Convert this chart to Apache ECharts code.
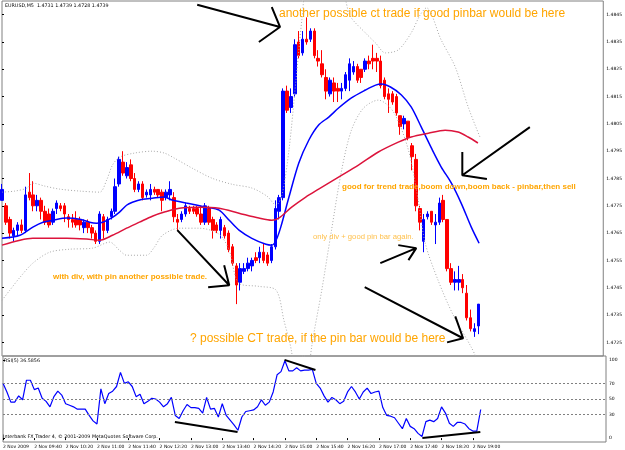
<!DOCTYPE html>
<html>
<head>
<meta charset="utf-8">
<script src="https://cdn.jsdelivr.net/npm/echarts@6/dist/echarts.min.js"></script>
<style>
html, body { margin: 0; padding: 0; background: #fff; }
#chart { width: 625px; height: 450px; }
</style>
</head>
<body>
<div id="chart"></div>
<script>
// EURUSD M5, 2 Nov 2009, 09:00 .. 19:10
const timeLabels = ['2 Nov 2009', '2 Nov 09:40', '2 Nov 10:20', '2 Nov 11:00', '2 Nov 11:40', '2 Nov 12:20',
  '2 Nov 13:00', '2 Nov 13:40', '2 Nov 14:20', '2 Nov 15:00', '2 Nov 15:40', '2 Nov 16:20',
  '2 Nov 17:00', '2 Nov 17:40', '2 Nov 18:20', '2 Nov 19:00']
const labelStep = 8
const slotCount = 155

const open = [
  1.4777, 1.4775, 1.4770, 1.4764, 1.4766, 1.4768, 1.4766, 1.4780, 1.4779, 1.4775,
  1.4777, 1.4773, 1.4772, 1.4769, 1.4774, 1.4775, 1.4775, 1.4771, 1.4770, 1.4770,
  1.4770, 1.4767, 1.4769, 1.4767, 1.4765, 1.4762, 1.4771, 1.4766, 1.4771, 1.4773,
  1.4783, 1.4791, 1.4786, 1.4790, 1.4785, 1.4781, 1.4783, 1.4779, 1.4779, 1.4781,
  1.4781, 1.4780, 1.4778, 1.4779, 1.4778, 1.4770, 1.4770, 1.4772, 1.4774, 1.4774,
  1.4774, 1.4772, 1.4769, 1.4774, 1.4770, 1.4768, 1.4766, 1.4767, 1.4765, 1.4760,
  1.4753, 1.4747, 1.4751, 1.4752, 1.4753, 1.4756, 1.4756, 1.4758, 1.4757, 1.4755,
  1.4760, 1.4773, 1.4778, 1.4817, 1.4811, 1.4816, 1.4835, 1.4831, 1.4836, 1.4836,
  1.4839, 1.4829, 1.4827, 1.4822, 1.4816, 1.4820, 1.4818, 1.4817, 1.4818, 1.4821,
  1.4824, 1.4826, 1.4825, 1.4825, 1.4828, 1.4829, 1.4829, 1.4828, 1.4821, 1.4816,
  1.4816, 1.4815, 1.4808, 1.4805, 1.4806, 1.4797, 1.4792, 1.4774, 1.4762, 1.4771,
  1.4773, 1.4768, 1.4769, 1.4777, 1.4770, 1.4752, 1.4747, 1.4747, 1.4748, 1.4743,
  1.4734, 1.4729, 1.4731
]
const close = [
  1.4781, 1.4769, 1.4765, 1.4766, 1.4768, 1.4766, 1.4779, 1.4778, 1.4775, 1.4777,
  1.4773, 1.4769, 1.4768, 1.4773, 1.4776, 1.4774, 1.4772, 1.4770, 1.4769, 1.4768,
  1.4768, 1.4769, 1.4767, 1.4765, 1.4762, 1.4772, 1.4766, 1.4770, 1.4773, 1.4782,
  1.4792, 1.4787, 1.4789, 1.4785, 1.4781, 1.4783, 1.4778, 1.4780, 1.4781, 1.4780,
  1.4779, 1.4777, 1.4780, 1.4781, 1.4771, 1.4769, 1.4772, 1.4775, 1.4773, 1.4773,
  1.4772, 1.4769, 1.4775, 1.4769, 1.4766, 1.4766, 1.4770, 1.4764, 1.4759, 1.4754,
  1.4746, 1.4752, 1.4752, 1.4754, 1.4755, 1.4755, 1.4758, 1.4755, 1.4754, 1.4760,
  1.4774, 1.4778, 1.4817, 1.4810, 1.4815, 1.4834, 1.4830, 1.4836, 1.4835, 1.4839,
  1.4830, 1.4828, 1.4823, 1.4817, 1.4821, 1.4817, 1.4817, 1.4818, 1.4823, 1.4827,
  1.4826, 1.4821, 1.4822, 1.4828, 1.4827, 1.4828, 1.4828, 1.4819, 1.4815, 1.4814,
  1.4813, 1.4809, 1.4804, 1.4807, 1.4800, 1.4793, 1.4775, 1.4769, 1.4770, 1.4772,
  1.4769, 1.4769, 1.4776, 1.4770, 1.4752, 1.4747, 1.4748, 1.4748, 1.4745, 1.4734,
  1.4730, 1.4730, 1.4739
]
const low = [
  1.4777, 1.4768, 1.4763, 1.4762, 1.4764, 1.4765, 1.4765, 1.4777, 1.4773, 1.4773,
  1.4770, 1.4768, 1.4767, 1.4768, 1.4772, 1.4773, 1.4769, 1.4767, 1.4767, 1.4767,
  1.4766, 1.4765, 1.4765, 1.4763, 1.4761, 1.4761, 1.4763, 1.4765, 1.4770, 1.4772,
  1.4782, 1.4786, 1.4785, 1.4784, 1.4780, 1.4780, 1.4777, 1.4778, 1.4777, 1.4779,
  1.4778, 1.4773, 1.4777, 1.4777, 1.4769, 1.4766, 1.4769, 1.4771, 1.4772, 1.4772,
  1.4771, 1.4768, 1.4768, 1.4768, 1.4763, 1.4765, 1.4763, 1.4763, 1.4758, 1.4753,
  1.4739, 1.4744, 1.4750, 1.4751, 1.4751, 1.4754, 1.4754, 1.4754, 1.4753, 1.4754,
  1.4759, 1.4770, 1.4777, 1.4809, 1.4809, 1.4815, 1.4829, 1.4830, 1.4834, 1.4835,
  1.4829, 1.4826, 1.4822, 1.4814, 1.4815, 1.4813, 1.4813, 1.4814, 1.4817, 1.4817,
  1.4823, 1.4820, 1.4820, 1.4824, 1.4825, 1.4825, 1.4824, 1.4818, 1.4814, 1.4809,
  1.4812, 1.4808, 1.4801, 1.4803, 1.4799, 1.4788, 1.4773, 1.4766, 1.4758, 1.4770,
  1.4768, 1.4761, 1.4768, 1.4769, 1.4751, 1.4746, 1.4744, 1.4744, 1.4743, 1.4733,
  1.4729, 1.4727, 1.4728
]
const high = [
  1.4783, 1.4776, 1.4771, 1.4767, 1.4769, 1.4770, 1.4782, 1.4787, 1.4784, 1.4779,
  1.4778, 1.4775, 1.4774, 1.4774, 1.4777, 1.4776, 1.4776, 1.4772, 1.4772, 1.4773,
  1.4771, 1.4770, 1.4770, 1.4768, 1.4766, 1.4773, 1.4772, 1.4771, 1.4774, 1.4785,
  1.4793, 1.4795, 1.4791, 1.4792, 1.4787, 1.4784, 1.4784, 1.4781, 1.4783, 1.4782,
  1.4781, 1.4781, 1.4781, 1.4784, 1.4780, 1.4772, 1.4773, 1.4776, 1.4775, 1.4775,
  1.4775, 1.4775, 1.4776, 1.4775, 1.4771, 1.4769, 1.4771, 1.4768, 1.4766, 1.4761,
  1.4754, 1.4754, 1.4754, 1.4756, 1.4756, 1.4758, 1.4760, 1.4761, 1.4758, 1.4761,
  1.4777, 1.4779, 1.4818, 1.4819, 1.4818, 1.4836, 1.4839, 1.4839, 1.4844, 1.4840,
  1.4840, 1.4832, 1.4832, 1.4825, 1.4822, 1.4822, 1.4820, 1.4820, 1.4824, 1.4829,
  1.4828, 1.4827, 1.4825, 1.4829, 1.4830, 1.4834, 1.4831, 1.4830, 1.4822, 1.4818,
  1.4817, 1.4816, 1.4808, 1.4808, 1.4806, 1.4798, 1.4794, 1.4775, 1.4772, 1.4773,
  1.4773, 1.4772, 1.4778, 1.4779, 1.4770, 1.4754, 1.4751, 1.4753, 1.4750, 1.4746,
  1.4737, 1.4732, 1.4739
]

const rsi = [
  70, 59, 46, 46, 54, 49, 74, 74, 62, 64,
  51, 47, 40, 53, 60, 55, 44, 42, 40, 37,
  37, 37, 29, 22, 18, 63, 44, 57, 60, 66,
  84, 70, 72, 66, 53, 56, 44, 47, 51, 50,
  46, 40, 44, 52, 29, 25, 35, 43, 39, 39,
  38, 32, 52, 37, 38, 27, 44, 29, 23, 17,
  10, 27, 34, 35, 36, 40, 49, 42, 46, 59,
  81, 85, 99, 86, 86, 90, 86, 87, 87, 88,
  70, 64, 54, 46, 52, 49, 44, 47, 59, 66,
  59, 50, 59, 64, 57, 59, 60, 39, 29, 28,
  26, 19, 12, 25, 15, 12, 6, 2, 21, 23,
  21, 25, 40, 32, 19, 15, 20, 20, 18, 12,
  9, 9, 36.5856
]

// moving averages and bands as [bar, price]
const fastMa = [
  [0, 1.47631], [4.6, 1.47642], [7.9, 1.47672], [10.5, 1.4769], [13, 1.47697], [16.6, 1.47705],
  [19.9, 1.47701], [22.4, 1.4769], [24.2, 1.47686], [25.8, 1.4769], [28.3, 1.47708], [30.1, 1.47727],
  [31.9, 1.47752], [33.4, 1.47763], [36, 1.47774], [38.5, 1.47778], [41.6, 1.47782], [43.6, 1.47771],
  [47.2, 1.4776], [52.3, 1.47745], [55.6, 1.47734], [58.2, 1.47697], [60.7, 1.47661], [64, 1.47631],
  [67.6, 1.47609], [69.1, 1.47606], [70.2, 1.47624], [71.4, 1.47672], [73.5, 1.47782], [76, 1.47906],
  [78.6, 1.47991], [81.1, 1.48046], [83.7, 1.48075], [86.2, 1.48108], [89.5, 1.48145], [93.1, 1.48174],
  [95.7, 1.48192], [97.2, 1.48196], [99.5, 1.48185], [102.3, 1.48156], [104.8, 1.48112], [107.4, 1.48038],
  [110, 1.47961], [112.5, 1.47892], [115.1, 1.47833], [117.6, 1.4776], [120.2, 1.47672], [122.2, 1.47613]
]
const slowMa = [
  [0, 1.47606], [4.6, 1.47624], [7.9, 1.47631], [16.6, 1.47631], [21.7, 1.47628], [25, 1.47624],
  [28.3, 1.47642], [31.9, 1.47668], [35.2, 1.4769], [38.5, 1.47712], [41.6, 1.47727], [45.4, 1.47741],
  [50.5, 1.47745], [55.6, 1.47741], [60.7, 1.47723], [65.8, 1.47705], [69.1, 1.47697], [70.9, 1.47705],
  [74.2, 1.47745], [77.8, 1.47782], [81.1, 1.47811], [86.2, 1.47855], [91.3, 1.47899], [96.4, 1.47947],
  [101.5, 1.47983], [104.8, 1.48002], [109.2, 1.48016], [113.5, 1.48027], [116.8, 1.4802], [119.4, 1.48002],
  [121.9, 1.4798]
]
const upperBand = [
  [0, 1.478], [3.3, 1.47804], [6.4, 1.47815], [7.9, 1.47833], [11, 1.47822], [14.8, 1.47811],
  [19.9, 1.47804], [25, 1.478], [26.8, 1.47844], [28.3, 1.47899], [30.1, 1.47928], [33.9, 1.47943],
  [38.5, 1.4795], [41.6, 1.47943], [44.1, 1.47925], [48.7, 1.47888], [53.8, 1.47851], [58.9, 1.47829],
  [64, 1.47815], [67.9, 1.47785], [70.2, 1.47752], [71.7, 1.47789], [73.5, 1.47954], [75.3, 1.48211],
  [76.8, 1.48431], [78.6, 1.48651], [82.4, 1.48761], [86.2, 1.48614], [88, 1.48504], [89.3, 1.48442],
  [93.1, 1.48383], [95.7, 1.48346], [98.2, 1.4831], [101.5, 1.48321], [104.8, 1.48383], [107.1, 1.48449],
  [108.7, 1.48475], [112.5, 1.48357], [116.1, 1.48258], [119.4, 1.48112], [122.4, 1.48002]
]
const lowerBand = [
  [0, 1.47404], [2, 1.47441], [4.6, 1.47488], [7.9, 1.4754], [12.2, 1.4758], [17.3, 1.47591],
  [23.2, 1.47595], [27.6, 1.47617], [30.1, 1.47587], [31.9, 1.47569], [37, 1.47569], [39, 1.47598],
  [41.1, 1.47642], [45.4, 1.47668], [50.5, 1.47668], [55.6, 1.47646], [58.2, 1.47587], [60.7, 1.47466],
  [65.8, 1.47455], [70.2, 1.47441], [72.2, 1.47331], [74.2, 1.47213], [76, 1.46964], [77.8, 1.47037],
  [79.3, 1.47232], [81.9, 1.47441], [84.4, 1.47661], [87, 1.47881], [89.5, 1.48027], [92.6, 1.48108],
  [96.4, 1.48137], [100.3, 1.48093], [104.1, 1.47954], [106.6, 1.47771], [108.4, 1.47613], [111.7, 1.47477],
  [115.6, 1.47349], [120.2, 1.47232], [122.4, 1.47166]
]

const priceTicks = [1.4725, 1.4735, 1.4745, 1.4755, 1.4765, 1.4775, 1.4785, 1.4795, 1.4805, 1.4815, 1.4825, 1.4835, 1.4845]
const rsiTicks = [0, 30, 50, 70, 100]
const rsiLevels = [30, 50, 70]

// hand drawn arrows: shaft start, tip, head, tip, head
const arrowTop = [[50, 1.48486], [71.2, 1.48405], [69.1, 1.48478], [71.2, 1.48405], [65.8, 1.4835]]
const arrowDiv = [[44.9, 1.47661], [58.2, 1.47459], [56.9, 1.47532], [58.2, 1.47459], [52.8, 1.47452]]
const arrowPin = [[96.9, 1.4754], [106.1, 1.47595], [101.5, 1.47606], [106.1, 1.47595], [104.1, 1.47551]]
const arrowCt = [[92.9, 1.47452], [118.1, 1.47265], [116.1, 1.47345], [118.1, 1.47265], [114, 1.4725]]
const arrowTrend = [[135.2, 1.48038], [117.9, 1.47862], [117.9, 1.47947], [117.9, 1.47862], [124.2, 1.47848]]
const rsiLineA = [[43.9, 20.5], [59.9, 7.7]]
const rsiLineB = [[71.9, 100], [79.8, 87]]
const rsiLineC = [[107.1, 0], [121.9, 7.7]]

const notes = [
  { text: 'another possible ct trade if good pinbar would be here', x: 279, y: 14, font: '12px "Liberation Sans"', color: '#FFA500' },
  { text: 'good for trend trade,boom down,boom back - pinbar,then sell', x: 342, y: 187, font: 'bold 8px "Liberation Sans"', color: '#FFA500' },
  { text: 'only div + good pin bar again.', x: 313, y: 237, font: '7.7px "Liberation Sans"', color: '#FFC04C' },
  { text: 'with div, with pin another possible trade.', x: 53, y: 277, font: 'bold 8px "Liberation Sans"', color: '#FFA500' },
  { text: '? possible CT trade, if the pin bar would be here', x: 190, y: 339, font: '12px "Liberation Sans"', color: '#FFA500' }
]

const last = open.length - 1
const cats = []
for (let i = 0; i < slotCount; i++) cats.push(String(i))
const candles = open.map((o, i) => [o, close[i], low[i], high[i]])
const showTime = (idx) => idx % labelStep === 0 && idx / labelStep < timeLabels.length

const smallFont = { fontFamily: 'DejaVu Sans', fontSize: 4.5, color: '#000' }

function drawing(data, xi, yi) {
  return {
    type: 'line', xAxisIndex: xi, yAxisIndex: yi, data: data, symbol: 'none', silent: true,
    lineStyle: { color: '#000', width: 2 }, z: 5
  }
}

function band(data) {
  return {
    type: 'line', xAxisIndex: 2, yAxisIndex: 0, data: data, symbol: 'none', smooth: 0.3, silent: true,
    lineStyle: { color: '#A8A8A8', width: 1, type: [1, 2] }
  }
}

const chart = echarts.init(document.getElementById('chart'))
chart.setOption({
  animation: false,
  backgroundColor: '#fff',
  grid: [
    { left: 2, top: 1, width: 604, height: 355, show: true, borderColor: '#808080', borderWidth: 1 },
    { left: 2, top: 356, width: 604, height: 86, show: true, borderColor: '#808080', borderWidth: 1 }
  ],
  xAxis: [
    { type: 'category', gridIndex: 0, data: cats, boundaryGap: false, show: false },
    {
      type: 'category', gridIndex: 1, data: cats, boundaryGap: false,
      axisLine: { show: false },
      axisTick: { show: true, interval: showTime, length: 2, lineStyle: { color: '#000' } },
      axisLabel: {
        interval: showTime, align: 'left', margin: 2, ...smallFont,
        formatter: (v, idx) => timeLabels[idx / labelStep]
      }
    },
    { type: 'value', gridIndex: 0, min: 0, max: slotCount - 1, show: false },
    { type: 'value', gridIndex: 1, min: 0, max: slotCount - 1, show: false }
  ],
  yAxis: [
    {
      type: 'value', gridIndex: 0, position: 'right', min: 1.4720, max: 1.4850, scale: true,
      splitLine: { show: false }, axisLine: { show: false },
      axisTick: { show: true, length: 2, customValues: priceTicks, lineStyle: { color: '#000' } },
      axisLabel: { margin: 3, customValues: priceTicks, formatter: (v) => v.toFixed(4), ...smallFont }
    },
    {
      type: 'value', gridIndex: 1, position: 'right', min: -5, max: 105,
      splitLine: { show: false }, axisLine: { show: false },
      axisTick: { show: true, length: 2, customValues: rsiTicks, lineStyle: { color: '#000' } },
      axisLabel: { margin: 3, customValues: rsiTicks, ...smallFont }
    }
  ],
  graphic: [
    {
      type: 'text', x: 5, y: 6,
      style: {
        text: 'EURUSD,M5  ' + [open[last], high[last], low[last], close[last]].map(v => v.toFixed(4)).join(' '),
        font: '4.8px "DejaVu Sans"', fill: '#000', verticalAlign: 'middle'
      }
    },
    {
      type: 'text', x: 4, y: 361,
      style: { text: 'RSI(5) ' + rsi[last].toFixed(4), font: '4.8px "DejaVu Sans"', fill: '#000', verticalAlign: 'middle' }
    },
    {
      type: 'text', x: 3, y: 437,
      style: {
        text: 'Interbank FX Trader 4, \u00a9 2001-2009 MetaQuotes Software Corp.',
        font: '4.8px "DejaVu Sans"', fill: '#000', verticalAlign: 'middle'
      }
    }
  ].concat(notes.map(n => ({
    type: 'text', x: n.x, y: n.y, z: 10,
    style: { text: n.text, font: n.font, fill: n.color, verticalAlign: 'middle' }
  }))),
  series: [
    band(upperBand),
    band(lowerBand),
    {
      type: 'candlestick', xAxisIndex: 0, yAxisIndex: 0, data: candles, barWidth: 3,
      itemStyle: { color: '#0000FF', color0: '#FF0000', borderColor: '#0000FF', borderColor0: '#FF0000', borderWidth: 1 },
      markLine: {
        silent: true, symbol: 'none',
        lineStyle: { opacity: 0 },
        label: {
          position: 'end', distance: 2, formatter: close[last].toFixed(4),
          backgroundColor: '#000', color: '#fff', fontSize: 4.5, fontFamily: 'DejaVu Sans', padding: [1, 2]
        },
        data: [{ yAxis: close[last] }]
      }
    },
    {
      type: 'line', xAxisIndex: 2, yAxisIndex: 0, data: fastMa, symbol: 'none', smooth: 0.3,
      lineStyle: { color: '#0000FF', width: 1.5 }, silent: true
    },
    {
      type: 'line', xAxisIndex: 2, yAxisIndex: 0, data: slowMa, symbol: 'none', smooth: 0.3,
      lineStyle: { color: '#DC143C', width: 1.5 }, silent: true
    },
    drawing(arrowTop, 2, 0),
    drawing(arrowDiv, 2, 0),
    drawing(arrowPin, 2, 0),
    drawing(arrowCt, 2, 0),
    drawing(arrowTrend, 2, 0),
    {
      type: 'line', xAxisIndex: 1, yAxisIndex: 1, data: rsi, symbol: 'none',
      lineStyle: { color: '#0000FF', width: 1.2 }, silent: true,
      markLine: {
        silent: true, symbol: 'none', label: { show: false },
        lineStyle: { color: '#808080', type: [2, 2], width: 1 },
        data: rsiLevels.map(v => ({ yAxis: v }))
      }
    },
    drawing(rsiLineA, 3, 1),
    drawing(rsiLineB, 3, 1),
    drawing(rsiLineC, 3, 1)
  ]
})
</script>
</body>
</html>
